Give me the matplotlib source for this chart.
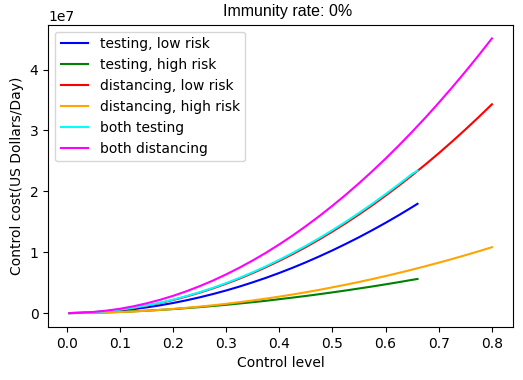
import matplotlib
matplotlib.use("Agg")
import matplotlib.pyplot as plt

# control levels
x_dist = [0.005, 0.025, 0.05, 0.075, 0.1, 0.125, 0.15, 0.175, 0.2, 0.225,
          0.25, 0.275, 0.3, 0.325, 0.35, 0.375, 0.4, 0.425, 0.45, 0.475,
          0.5, 0.525, 0.55, 0.575, 0.6, 0.625, 0.65, 0.675, 0.7, 0.725,
          0.75, 0.775, 0.8]
x_test = [0.005, 0.025, 0.05, 0.075, 0.1, 0.125, 0.15, 0.175, 0.2, 0.225,
          0.25, 0.275, 0.3, 0.325, 0.35, 0.375, 0.4, 0.425, 0.45, 0.475,
          0.5, 0.525, 0.55, 0.575, 0.6, 0.625, 0.65, 0.66]

# costs in millions of dollars per day
testing_low = [0.0, 0.03, 0.10, 0.23, 0.41, 0.64, 0.93, 1.26, 1.65, 2.09,
               2.58, 3.12, 3.71, 4.35, 5.05, 5.79, 6.59, 7.44, 8.34, 9.30,
               10.30, 11.36, 12.46, 13.62, 14.83, 16.09, 17.41, 17.95]
testing_high = [0.0, 0.02, 0.05, 0.11, 0.19, 0.28, 0.39, 0.51, 0.65, 0.81,
                0.98, 1.16, 1.36, 1.57, 1.79, 2.02, 2.28, 2.54, 2.81, 3.10,
                3.40, 3.71, 4.04, 4.37, 4.72, 5.08, 5.46, 5.60]
distancing_low = [0.0, 0.03, 0.13, 0.30, 0.54, 0.84, 1.21, 1.64, 2.14, 2.71,
                  3.35, 4.05, 4.82, 5.66, 6.57, 7.54, 8.58, 9.68, 10.85,
                  12.09, 13.40, 14.77, 16.21, 17.72, 19.30, 20.94, 22.65,
                  24.42, 26.26, 28.17, 30.15, 32.19, 34.30]
distancing_high = [0.0, 0.01, 0.04, 0.10, 0.17, 0.26, 0.38, 0.52, 0.68, 0.86,
                   1.06, 1.28, 1.52, 1.79, 2.07, 2.38, 2.70, 3.05, 3.42, 3.81,
                   4.23, 4.66, 5.11, 5.59, 6.08, 6.60, 7.14, 7.70, 8.28, 8.88,
                   9.51, 10.15, 10.82]
both_testing = [0.0, 0.03, 0.14, 0.31, 0.56, 0.87, 1.24, 1.68, 2.20, 2.78,
                3.42, 4.14, 4.92, 5.78, 6.70, 7.69, 8.75, 9.87, 11.05, 12.30,
                13.62, 15.00, 16.45, 17.96, 19.54, 21.17, 22.87, 23.40]
both_distancing = [0.0, 0.04, 0.18, 0.40, 0.70, 1.10, 1.59, 2.16, 2.82, 3.57,
                   4.41, 5.33, 6.35, 7.45, 8.64, 9.91, 11.28, 12.73, 14.28,
                   15.91, 17.63, 19.43, 21.33, 23.31, 25.38, 27.54, 29.79,
                   32.12, 34.55, 37.06, 39.66, 42.34, 45.12]

def m(vals):
    return [v * 1e6 for v in vals]

fig = plt.figure(figsize=(5.23, 3.80), dpi=100)
ax = fig.add_axes([0.092, 0.14, 0.889, 0.795])

ax.plot(x_test, m(testing_low), color="blue", label="testing, low risk")
ax.plot(x_test, m(testing_high), color="green", label="testing, high risk")
ax.plot(x_dist, m(distancing_low), color="red", label="distancing, low risk")
ax.plot(x_dist, m(distancing_high), color="orange", label="distancing, high risk")
ax.plot(x_test, m(both_testing), color="cyan", label="both testing")
ax.plot(x_dist, m(both_distancing), color="magenta", label="both distancing")

ax.set_xticks([0.0, 0.1, 0.2, 0.3, 0.4, 0.5, 0.6, 0.7, 0.8])
ax.set_xlabel("Control level")
ax.set_ylabel("Control cost(US Dollars/Day)")
ax.set_title("Immunity rate: 0%", family="Liberation Sans", fontsize=11.5, x=0.516)
ax.legend(loc="upper left")

fig.savefig("out.png", dpi=100)
